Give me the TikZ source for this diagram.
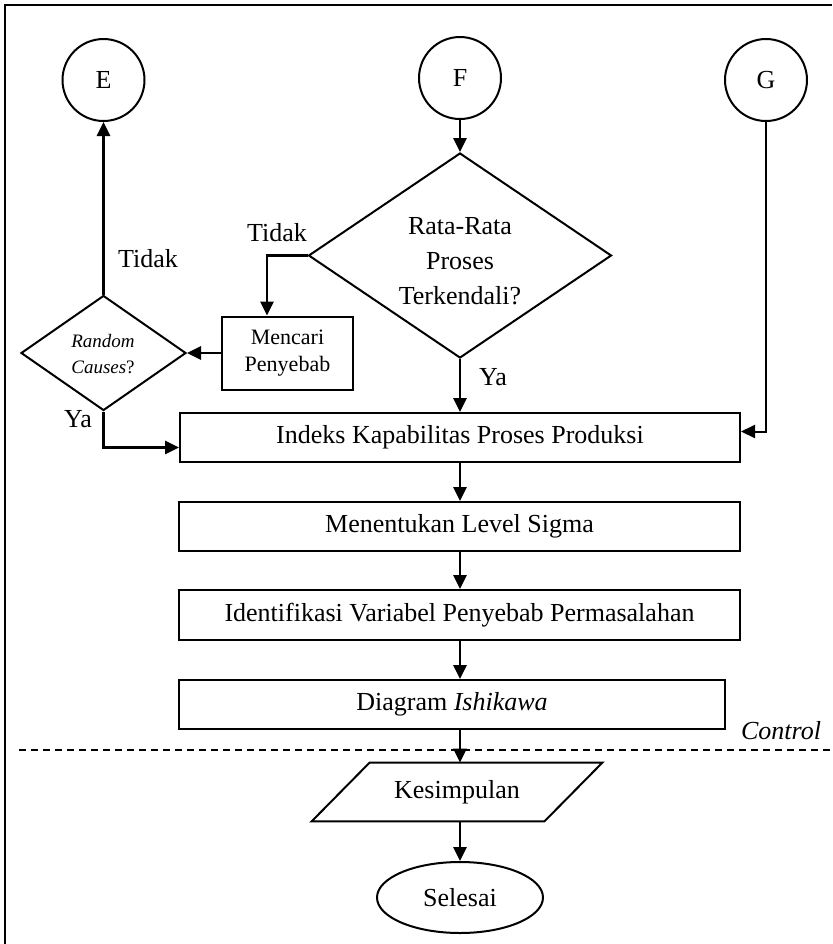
\documentclass[tikz,border=0pt]{standalone}
\usepackage{fontspec}
\setmainfont{Liberation Serif}
\usetikzlibrary{shapes.geometric,arrows.meta,calc}
\begin{document}
\begin{tikzpicture}[x=0.5pt,y=-0.5pt,
  font=\fontsize{13}{15.6}\selectfont,
  shape line/.style={draw=black,line width=1pt},
  connector/.style={circle,shape line,minimum size=41pt,inner sep=0pt},
  procbox/.style={rectangle,shape line,inner sep=0pt,minimum height=24.5pt},
  decision/.style={diamond,shape line,inner sep=0pt},
  flow/.style={line width=1.4pt,-{Triangle[length=7pt,width=6.5pt]}},
  thinflow/.style={line width=1pt,-{Triangle[length=7pt,width=6.5pt]}},
  dashline/.style={line width=1pt,dash pattern=on 3.5pt off 2.5pt}
]
\useasboundingbox (0,0) rectangle (832,944);

% page frame: left and top edges
\draw[line width=1.2pt] (5,944) -- (5,5) -- (832,5);

% off-page connectors
\node[connector] (E) at (103.5,80) {E};
\node[connector] (F) at (460,78) {F};
\node[connector] (G) at (766,80) {G};

% decision: process mean in control?
\node[decision,minimum width=151.5pt,minimum height=102.5pt] (dF) at (460,255.5) {};
\node[align=center,font=\fontsize{13}{17.5}\selectfont] (dFtext) at (460,261)
  {Rata-Rata\\Proses\\Terkendali?};

% decision: random causes?
\node[decision,minimum width=82.5pt,minimum height=57.5pt] (dR) at (103.5,353) {};
\node[align=center,font=\fontsize{9.5}{13}\selectfont] (dRtext) at (103,354)
  {\textit{Random}\\\textit{Causes}?};

\node[procbox,minimum width=65.5pt,minimum height=36.5pt,align=center,
      font=\fontsize{11}{13.5}\selectfont] (cari) at (287.5,353) {Mencari\\Penyebab};

% main process chain
\node[procbox,minimum width=280pt] (idx) at (460,437.5) {Indeks Kapabilitas Proses Produksi};
\node[procbox,minimum width=280.5pt] (lvl) at (459.5,526.5) {Menentukan Level Sigma};
\node[procbox,minimum width=280.5pt,minimum height=25pt] (var) at (459.5,615) {Identifikasi Variabel Penyebab Permasalahan};
\node[procbox,minimum width=273pt] (ish) at (452,704.5) {Diagram \textit{Ishikawa}};

% output: conclusion (parallelogram)
\node[inner sep=0pt,minimum width=116pt,minimum height=29pt] (kes) at (457,792) {Kesimpulan};
\draw[shape line] ($(kes.north west)+(29,0)$) -- ($(kes.north east)+(29,0)$)
  -- ($(kes.south east)+(-29,0)$) -- ($(kes.south west)+(-29,0)$) -- cycle;

% terminator
\node[ellipse,shape line,minimum width=83pt,minimum height=35.5pt,inner sep=0pt] (end) at (460,897.5) {Selesai};

% phase separator
\draw[dashline] (19,750) -- (832,750);
\node[font=\fontsize{13}{15.6}\selectfont\itshape] (ctl) at (781,731) {Control};

% connectors
\draw[flow] (F.south) -- (dF.north);
\draw[flow] (dF.west) -| ($(cari.north west)+(46,0)$);
\draw[flow] (cari.west) -- (dR.east);
\draw[flow] (dR.north) -- (E.south);
\draw[flow] (dR.south) |- ($(idx.west)+(0,10)$);
\draw[thinflow] (G.south) |- ($(idx.east)+(0,-6)$);
\draw[flow] (dF.south) -- (idx.north);
\draw[flow] (idx.south) -- (lvl.north -| idx.south);
\draw[flow] (lvl.south -| idx.south) -- (var.north -| idx.south);
\draw[flow] (var.south -| idx.south) -- (ish.north -| idx.south);
\draw[flow] (ish.south -| idx.south) -- (kes.north -| idx.south);
\draw[flow] (kes.south -| idx.south) -- (end.north);

% branch labels
\node (tidakF) at (277,233) {Tidak};
\node (tidakR) at (148,259) {Tidak};
\node (yaR) at (78,419) {Ya};
\node (yaF) at (493,377) {Ya};
\end{tikzpicture}
\end{document}
